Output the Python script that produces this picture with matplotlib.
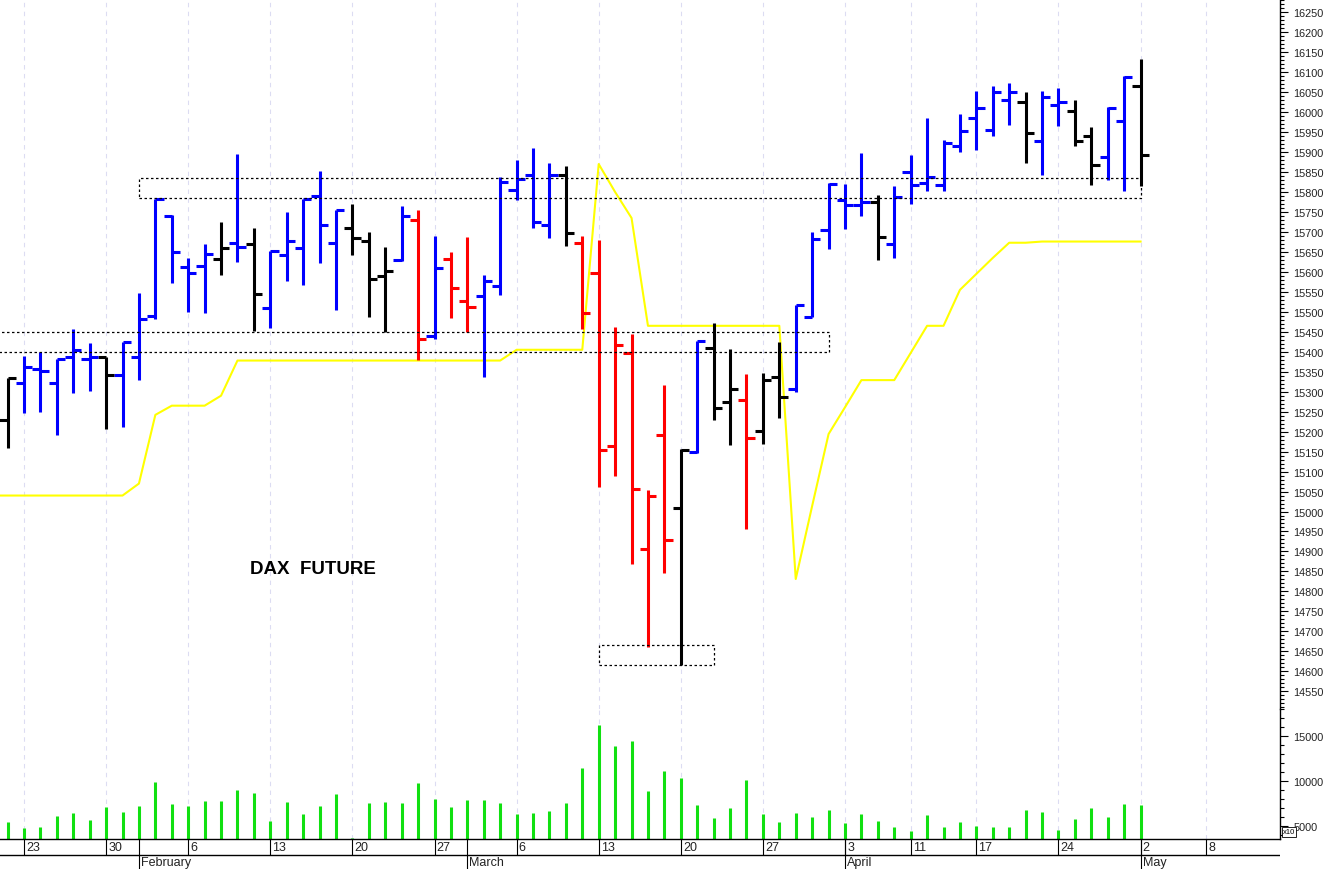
import numpy as np
import pandas as pd
import matplotlib
matplotlib.use('Agg')
import matplotlib.pyplot as plt
from matplotlib.patches import Rectangle
from matplotlib.ticker import MultipleLocator

plt.rcParams['font.family'] = ['Liberation Sans', 'DejaVu Sans']

# Handelstage (Jan 19 .. Mai), Feiertage raus
holidays = ['2023-04-07', '2023-04-10', '2023-05-01']
days = pd.bdate_range('2023-01-19', '2023-05-12')
days = days[~days.isin(pd.to_datetime(holidays))]
day_x = np.arange(len(days)) - days.get_loc(pd.Timestamp('2023-01-23'))

# OHLC ab 20. Januar
opens = [15229, 15321, 15357, 15323, 15388, 15382, 15386, 15342, 15386, 15490,
         15739, 15611, 15614, 15632, 15672, 15670, 15509, 15642, 15660, 15789,
         15672, 15709, 15677, 15590, 15630, 15731, 15439, 15632, 15526, 15539,
         15565, 15805, 15843, 15717, 15843, 15672, 15596, 15165, 15397, 14906,
         15192, 15008, 15148, 15409, 15273, 15280, 15201, 15336, 15308, 15486,
         15705, 15780, 15768, 15776, 15670, 15849, 15822, 15817, 15914, 15985,
         15956, 16030, 16026, 15928, 16018, 16002, 15940, 15887, 15979, 16065]
highs = [15334, 15390, 15399, 15382, 15457, 15421, 15386, 15424, 15548, 15782,
         15742, 15636, 15670, 15724, 15895, 15709, 15653, 15751, 15782, 15853,
         15756, 15770, 15701, 15662, 15766, 15756, 15689, 15650, 15688, 15593,
         15838, 15881, 15910, 15873, 15866, 15691, 15681, 15461, 15444, 15055,
         15318, 15157, 15428, 15471, 15407, 15344, 15347, 15425, 15517, 15701,
         15823, 15820, 15898, 15793, 15816, 15893, 15985, 15931, 15995, 16052,
         16065, 16072, 16050, 16054, 16060, 16030, 15963, 16012, 16090, 16133]
lows = [15160, 15246, 15248, 15192, 15296, 15301, 15207, 15211, 15329, 15482,
        15572, 15499, 15497, 15592, 15626, 15451, 15459, 15578, 15568, 15622,
        15505, 15642, 15486, 15449, 15628, 15380, 15432, 15484, 15450, 15336,
        15543, 15780, 15709, 15684, 15666, 15457, 15062, 15090, 14869, 14660,
        14846, 14616, 15146, 15229, 15166, 14956, 15169, 15233, 15298, 15486,
        15657, 15707, 15739, 15630, 15636, 15770, 15802, 15803, 15899, 15905,
        15941, 15968, 15872, 15843, 15966, 15914, 15818, 15831, 15802, 15814]
closes = [15334, 15363, 15353, 15382, 15404, 15386, 15342, 15424, 15482, 15782,
          15649, 15596, 15646, 15661, 15662, 15545, 15653, 15677, 15782, 15717,
          15755, 15684, 15582, 15601, 15741, 15432, 15610, 15560, 15511, 15577,
          15826, 15833, 15726, 15843, 15697, 15497, 15154, 15417, 15056, 15038,
          14929, 15154, 15426, 15259, 15307, 15183, 15329, 15286, 15517, 15682,
          15820, 15768, 15776, 15687, 15788, 15818, 15838, 15922, 15953, 16010,
          16050, 16050, 15948, 16037, 16025, 15928, 15868, 16010, 16087, 15893]
bar_cols = list('kbbbbbkbbbbbbkbkbbbbbkkkbrbrrbbbbbkrrrrrrkbkkrkkbbbbbkbbbbbbbbkbbkkbbk')
volumes = [5380, 4710, 4855, 6050, 6420, 5600, 7050, 6500, 7170, 9850,
           7390, 7170, 7730, 7730, 8990, 8660, 5490, 7680, 6270, 7170,
           8550, 3600, 7570, 7680, 7500, 9775, 8020, 7050, 7840, 7840,
           7570, 6270, 6420, 6610, 7500, 11450, 16300, 13950, 14470, 8880,
           11150, 10370, 7350, 5860, 6950, 10110, 6310, 5410, 6390, 5940,
           6720, 5270, 6270, 5530, 4820, 4440, 6160, 4820, 5380, 4930,
           4890, 4820, 6760, 6570, 4550, 5750, 7010, 5970, 7460, 7315]

# gelbe Linie ab 19. Januar
stop_line = [15040, 15040, 15040, 15040, 15040, 15040, 15040, 15040, 15040, 15070,
             15242, 15265, 15265, 15265, 15290, 15378, 15378, 15378, 15378, 15378,
             15378, 15378, 15378, 15378, 15378, 15378, 15378, 15378, 15378, 15378,
             15378, 15378, 15405, 15405, 15405, 15405, 15405, 15870, 15800, 15735,
             15465, 15465, 15465, 15465, 15465, 15465, 15465, 15465, 15465, 14831,
             15014, 15194, 15261, 15329, 15329, 15329, 15397, 15465, 15465, 15555,
             15595, 15635, 15673, 15673, 15676, 15676, 15676, 15676, 15676, 15676, 15676]

# Kästen: (von Tag, bis Tag, unten, oben)
boxes = [('2023-02-01', '2023-05-02', 15785, 15835),
         ('2023-01-18', '2023-03-31', 15400, 15450),
         ('2023-03-13', '2023-03-22', 14615, 14665)]

price_ticks = np.arange(14550, 16251, 50)
vol_ticks = [5000, 10000, 15000]

W, H = 1328, 870
fig = plt.figure(figsize=(W / 100, H / 100), dpi=100)


def px_axes(x0, y0, x1, y1):
    return fig.add_axes([x0 / W, 1 - y1 / H, (x1 - x0) / W, (y1 - y0) / H])


ax = px_axes(0, 0, 1280, 710)
axv = px_axes(0, 710, 1280, 840)
axd = px_axes(0, 840, 1280, 870)

xlim = (-24 / 16.42, (1280 - 24) / 16.42)
for a in (ax, axv, axd):
    a.set_xlim(*xlim)
    a.set_facecolor('none')
    a.set_xticks([])
    for s in a.spines.values():
        s.set_visible(False)
ax.set_ylim(14505.5, 16283.3)
axv.set_ylim(3512, 18054)
axd.set_ylim(0, 30)
axd.set_yticks([])

for a in (ax, axv):
    a.spines['right'].set_visible(True)
    a.spines['right'].set_linewidth(1)
    a.yaxis.set_ticks_position('right')
    a.tick_params(axis='y', which='major', length=6, width=0.8, pad=3.5,
                  labelsize=7.8, labelcolor='#222222')
    a.tick_params(axis='y', which='minor', length=3, width=0.8)
axv.spines['bottom'].set_visible(True)
axv.spines['bottom'].set_linewidth(1)
ax.set_yticks(price_ticks)
ax.yaxis.set_minor_locator(MultipleLocator(10))
axv.set_yticks(vol_ticks)
axv.yaxis.set_minor_locator(MultipleLocator(1000))

# Wochen- und Monatsanfänge
dser = pd.Series(days)
week_start = (dser.dt.isocalendar().week.diff() != 0).values
month_start = (dser.dt.month.diff() != 0).values
week_start[0] = month_start[0] = False
week_x = [x for x, f in zip(day_x, week_start) if f and x < xlim[1]]
week_lbl = [str(d.day) for d, x, f in zip(days, day_x, week_start) if f and x < xlim[1]]
month_x = [x for x, f in zip(day_x, month_start) if f and x < xlim[1]]
month_lbl = [d.strftime('%B') for d, x, f in zip(days, day_x, month_start) if f and x < xlim[1]]

for a in (ax, axv):
    for x in week_x:
        a.axvline(x, color='#dcdcf2', lw=0.8, ls=(0, (4, 4)), zorder=0)

bx = day_x[1:1 + len(opens)]
ax.vlines(bx, lows, highs, colors=bar_cols, lw=2.2, zorder=3)
ax.hlines(opens, bx - 0.5, bx, colors=bar_cols, lw=2.2, zorder=3)
ax.hlines(closes, bx, bx + 0.5, colors=bar_cols, lw=2.2, zorder=3)

ax.plot(day_x[:len(stop_line)], stop_line, color='#ffff00', lw=1.5, zorder=2)

pos = dict(zip(days, day_x))
for d0, d1, lo, hi in boxes:
    t0 = pd.Timestamp(d0)
    x0 = pos[t0] if t0 in pos else -3
    x1 = pos[pd.Timestamp(d1)]
    ax.add_patch(Rectangle((x0, lo), x1 - x0, hi - lo, fill=False, ec='black',
                           lw=0.9, ls=(0, (2, 2)), zorder=4))

ax.text(17.6, 14858, 'DAX  FUTURE', ha='center', va='center', fontsize=13.5,
        fontweight='bold', color='black')

axv.vlines(bx, 3512, volumes, colors='#11e011', lw=2.2)

# Datumsleiste
axd.axhline(14, color='black', lw=1)
axd.vlines(week_x, 14, 30, colors='black', lw=0.8)
axd.vlines(month_x, 0, 30, colors='black', lw=0.8)
for x, t in zip(week_x, week_lbl):
    axd.text(x + 0.13, 22, t, ha='left', va='center', fontsize=9, color='#222222')
for x, t in zip(month_x, month_lbl):
    axd.text(x + 0.13, 6.5, t, ha='left', va='center', fontsize=9, color='#222222')

fig.text(1283 / W, 1 - 833 / H, 'x10', fontsize=5.5, ha='left', va='center',
         bbox=dict(boxstyle='square,pad=0.15', fc='white', ec='black', lw=0.6))

fig.savefig('out.png', dpi=100)
